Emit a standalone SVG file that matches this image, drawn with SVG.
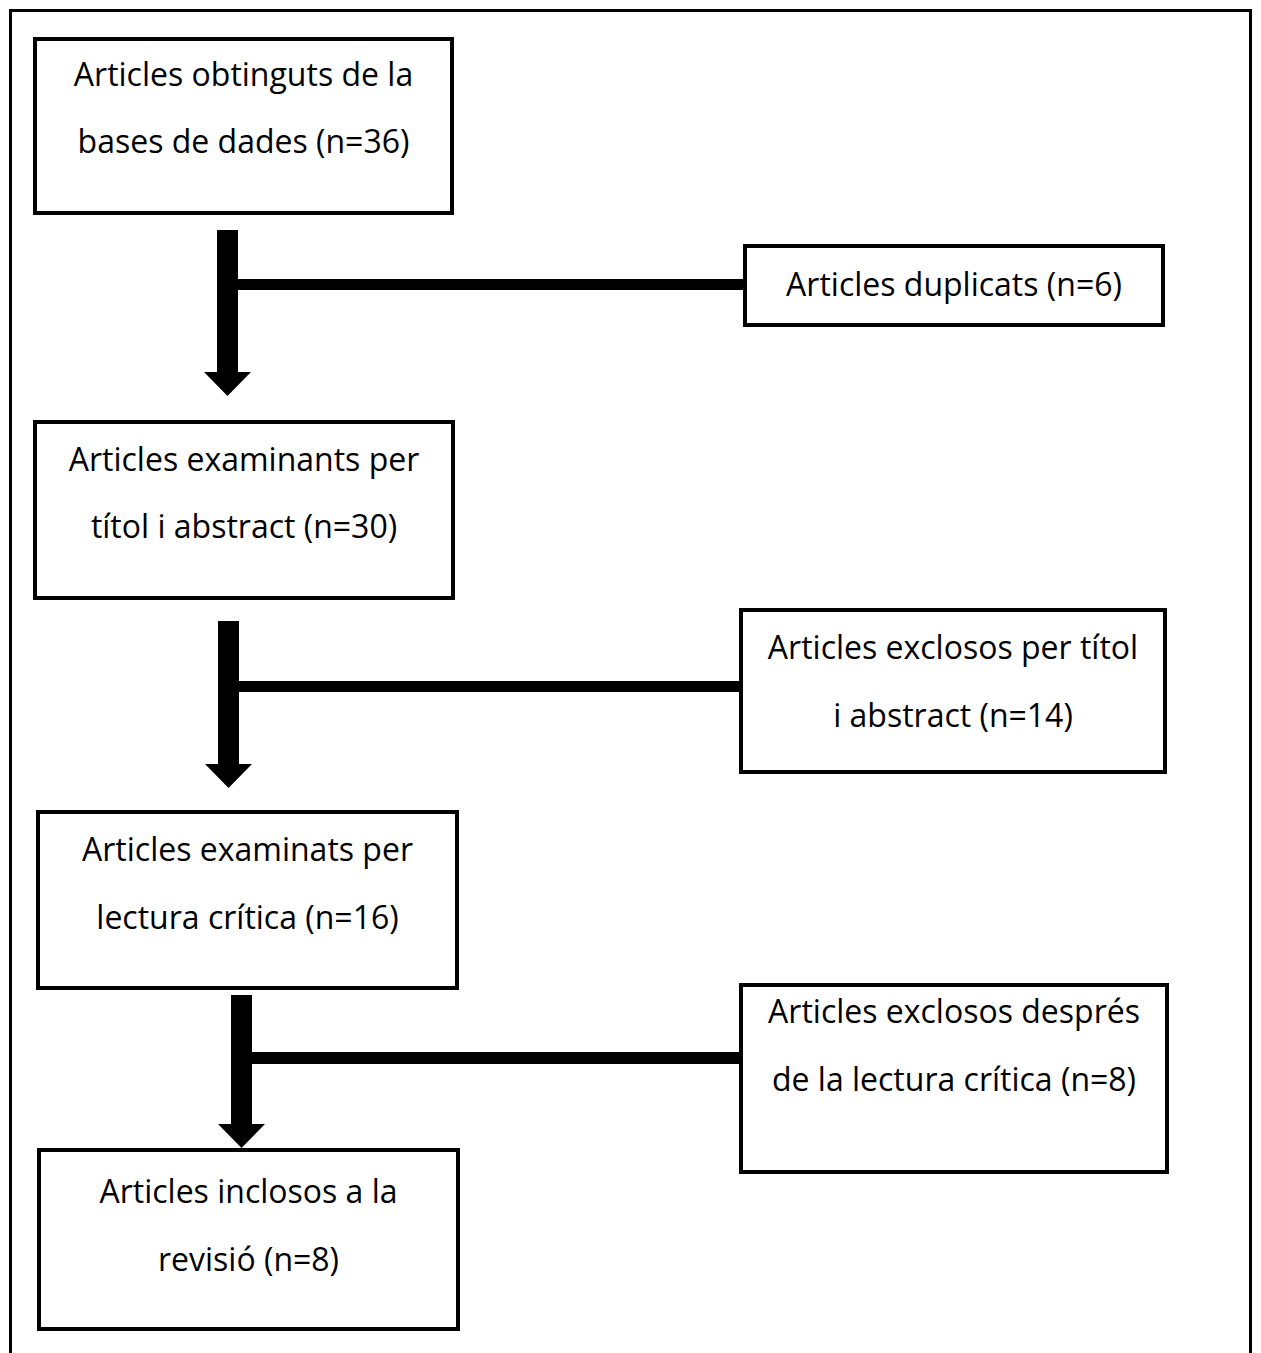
<svg xmlns="http://www.w3.org/2000/svg" width="1261" height="1353" viewBox="0 0 1261 1353">
<style>
.box{fill:#fff;stroke:#000;stroke-width:4}
.t{font-family:"Open Sans","Liberation Sans",sans-serif;font-size:32px;fill:#000;text-anchor:middle;font-variant-ligatures:none}
.bar{fill:#000}
</style>
<rect x="0" y="0" width="1261" height="1353" fill="#fff"/>
<rect x="10.5" y="10.5" width="1240" height="1360" fill="none" stroke="#000" stroke-width="3"/>
<g id="connectors">
<g id="arrow1"><rect class="bar" x="217" y="230" width="21" height="143"/><polygon class="bar" points="204,372 251,372 227.5,396"/><rect class="bar" x="237" y="279" width="509" height="11"/></g>
<g id="arrow2"><rect class="bar" x="218" y="621" width="21" height="144"/><polygon class="bar" points="205,764 252,764 228.5,788"/><rect class="bar" x="238" y="681" width="504" height="11"/></g>
<g id="arrow3"><rect class="bar" x="231" y="995" width="21" height="130"/><polygon class="bar" points="218,1124 265,1124 241.5,1148"/><rect class="bar" x="251" y="1052" width="491" height="12"/></g>
</g>
<g id="n1"><rect class="box" x="35" y="39" width="417" height="174"/><text class="t" x="243.5" y="86">Articles obtinguts de la</text><text class="t" x="243.5" y="153">bases de dades (n=36)</text></g>
<g id="n2"><rect class="box" x="745" y="246" width="418" height="79"/><text class="t" x="954" y="296">Articles duplicats (n=6)</text></g>
<g id="n3"><rect class="box" x="35" y="422" width="418" height="176"/><text class="t" x="244" y="471">Articles examinants per</text><text class="t" x="244" y="538">títol i abstract (n=30)</text></g>
<g id="n4"><rect class="box" x="741" y="610" width="424" height="162"/><text class="t" x="953" y="659">Articles exclosos per títol</text><text class="t" x="953" y="727">i abstract (n=14)</text></g>
<g id="n5"><rect class="box" x="38" y="812" width="419" height="176"/><text class="t" x="247.5" y="861">Articles examinats per</text><text class="t" x="247.5" y="929">lectura crítica (n=16)</text></g>
<g id="n6"><rect class="box" x="741" y="985" width="426" height="187"/><text class="t" x="954" y="1023">Articles exclosos després</text><text class="t" x="954" y="1091">de la lectura crítica (n=8)</text></g>
<g id="n7"><rect class="box" x="39" y="1150" width="419" height="179"/><text class="t" x="248.5" y="1203">Articles inclosos a la</text><text class="t" x="248.5" y="1271">revisió (n=8)</text></g>
</svg>
